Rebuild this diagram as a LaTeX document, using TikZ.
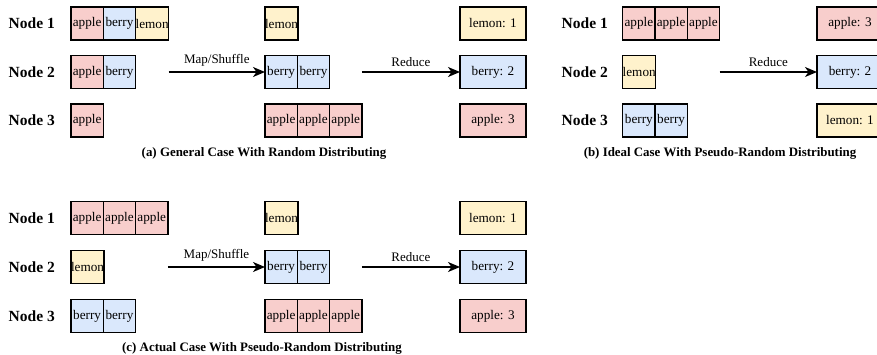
\documentclass[tikz,border=0pt]{standalone}
\usepackage{fontspec}
\setmainfont{Liberation Serif}
\usetikzlibrary{positioning,arrows.meta}

\definecolor{applered}{HTML}{F8CECC}
\definecolor{berryblue}{HTML}{DAE8FC}
\definecolor{lemonyellow}{HTML}{FFF2CC}

\tikzset{
  cell/.style={draw, line width=1.3pt, outer sep=0pt, inner sep=0pt,
    minimum width=32.3pt, minimum height=33pt, font=\fontsize{13.2}{14}\selectfont},
  apple/.style={cell, fill=applered},
  berry/.style={cell, fill=berryblue},
  lemon/.style={cell, fill=lemonyellow},
  tally/.style={minimum width=66pt, anchor=west},
  nodelabel/.style={font=\bfseries\fontsize{15.5}{16}\selectfont, anchor=east, inner sep=0pt},
  subcaption/.style={font=\bfseries\fontsize{12.9}{14}\selectfont},
  flow/.style={-{Stealth[length=12pt,width=10pt,inset=3.5pt]}, line width=1.3pt},
  flowlabel/.style={font=\fontsize{13}{14}\selectfont, above=1.5pt},
}

% one row of fruit cells: name, left x, y, fruits
\newcommand{\fruitrow}[4]{%
  \foreach \fruit [count=\i] in {#4}
    \node[\fruit, anchor=west] (#1\i) at ({#2+32.3*(\i-1)},#3) {\fruit};%
}

\begin{document}
\begin{tikzpicture}[x=1pt, y=-1pt]
  \useasboundingbox (0,0) rectangle (877,354);

  % (a) General case
  \node[nodelabel] (anode1) at (55,23.5) {Node 1};
  \node[nodelabel] (anode2) at (55,72) {Node 2};
  \node[nodelabel] (anode3) at (55,120.5) {Node 3};
  \fruitrow{ain1}{71}{23.5}{apple,berry,lemon}
  \fruitrow{ain2}{71}{72}{apple,berry}
  \fruitrow{ain3}{71}{120.5}{apple}
  \fruitrow{amid1}{265}{23.5}{lemon}
  \fruitrow{amid2}{265}{72}{berry,berry}
  \fruitrow{amid3}{265}{120.5}{apple,apple,apple}
  \node[lemon, tally] (aout1) at (460,23.5) {lemon: 1};
  \node[berry, tally] (aout2) at (460,72) {berry: 2};
  \node[apple, tally] (aout3) at (460,120.5) {apple: 3};
  \draw[flow] (ain13.east |- ain21) -- (amid21.west) node[midway, flowlabel] {Map/Shuffle};
  \draw[flow] (amid33.east |- amid21) -- (aout2.west) node[midway, flowlabel] {Reduce};
  \node[subcaption] (acap) at (264,153) {(a) General Case With Random Distributing};

  % (b) Ideal case
  \node[nodelabel] (bnode1) at (608,23.5) {Node 1};
  \node[nodelabel] (bnode2) at (608,72) {Node 2};
  \node[nodelabel] (bnode3) at (608,120.5) {Node 3};
  \fruitrow{bin1}{622.7}{23.5}{apple,apple,apple}
  \fruitrow{bin2}{622.7}{72}{lemon}
  \fruitrow{bin3}{622.7}{120.5}{berry,berry}
  \node[apple, tally] (bout1) at (817,23.5) {apple: 3};
  \node[berry, tally] (bout2) at (817,72) {berry: 2};
  \node[lemon, tally] (bout3) at (817,120.5) {lemon: 1};
  \draw[flow] (bin13.east |- bin21) -- (bout2.west) node[midway, flowlabel] {Reduce};
  \node[subcaption] (bcap) at (720,153) {(b) Ideal Case With Pseudo-Random Distributing};

  % (c) Actual case
  \node[nodelabel] (cnode1) at (55,218) {Node 1};
  \node[nodelabel] (cnode2) at (55,267) {Node 2};
  \node[nodelabel] (cnode3) at (55,316) {Node 3};
  \fruitrow{cin1}{71}{218}{apple,apple,apple}
  \fruitrow{cin2}{71}{267}{lemon}
  \fruitrow{cin3}{71}{316}{berry,berry}
  \fruitrow{cmid1}{265}{218}{lemon}
  \fruitrow{cmid2}{265}{267}{berry,berry}
  \fruitrow{cmid3}{265}{316}{apple,apple,apple}
  \node[lemon, tally] (cout1) at (460,218) {lemon: 1};
  \node[berry, tally] (cout2) at (460,267) {berry: 2};
  \node[apple, tally] (cout3) at (460,316) {apple: 3};
  \draw[flow] (cin13.east |- cin21) -- (cmid21.west) node[midway, flowlabel] {Map/Shuffle};
  \draw[flow] (cmid33.east |- cmid21) -- (cout2.west) node[midway, flowlabel] {Reduce};
  \node[subcaption] (ccap) at (262,348) {(c) Actual Case With Pseudo-Random Distributing};
\end{tikzpicture}
\end{document}
